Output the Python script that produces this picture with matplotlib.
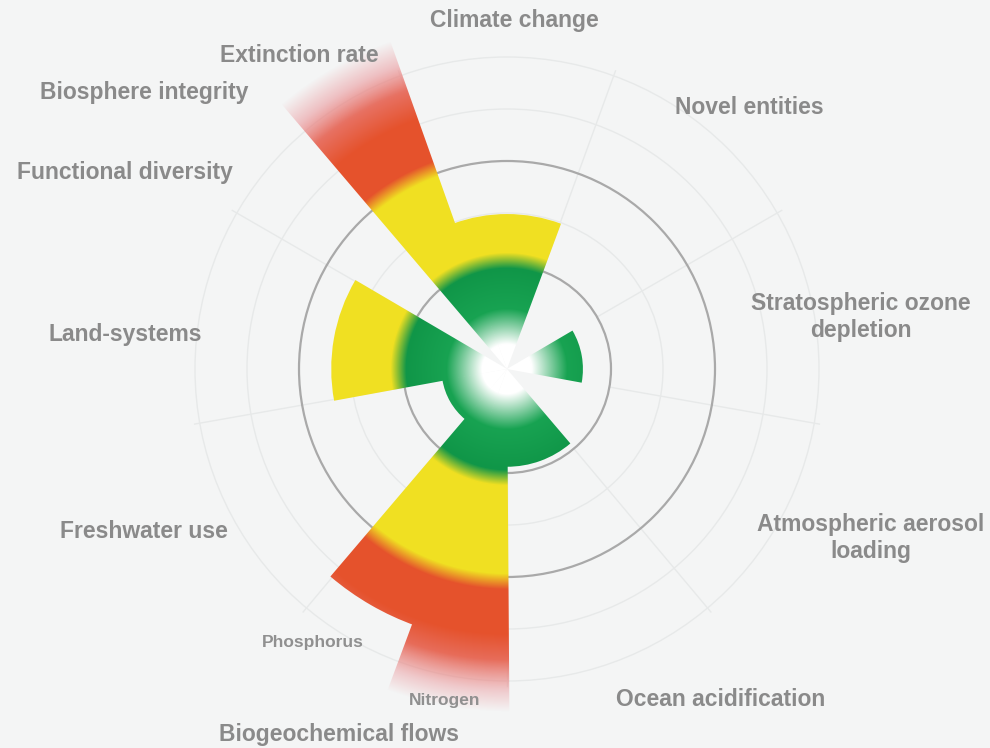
import numpy as np
import matplotlib
matplotlib.use("Agg")
import matplotlib.pyplot as plt
from matplotlib.patches import Wedge, Circle

plt.rcParams['font.family'] = ['Liberation Sans', 'DejaVu Sans']

###############################################################################
#                                  DATA                                       #
###############################################################################

# nine boundaries, clockwise from the top, 40 degrees per sector
sectors = ["Climate change", "Novel entities", "Stratospheric ozone depletion",
           "Atmospheric aerosol loading", "Ocean acidification",
           "Biogeochemical flows", "Freshwater use", "Land-system change",
           "Biosphere integrity"]

# quantified wedges : sector index, which part of the sector, control variable
# (value in units of the safe boundary, 1 = boundary, 2 = zone of high risk)
wedge_names = ["Climate change", "Stratospheric ozone", "Ocean acidification",
               "Nitrogen", "Phosphorus", "Freshwater use", "Land-systems",
               "Extinction rate"]
wedge_sector = [0, 2, 4, 5, 5, 6, 7, 8]
wedge_part = ["full", "full", "full", "first", "second", "full", "full", "second"]
wedge_value = [1.49, 0.73, 0.94, 3.3, 2.62, 0.63, 1.69, 3.35]
wedge_fade = [False, False, False, True, False, False, False, True]

# colour ramp along the radius
ramp_r = [0.0, 0.24, 0.58, 0.97, 1.12, 1.97, 2.12, 2.55, 3.1]
ramp_red = [255, 255, 24, 16, 240, 240, 229, 229, 234]
ramp_green = [255, 255, 163, 150, 224, 224, 82, 82, 140]
ramp_blue = [255, 255, 82, 72, 34, 34, 44, 44, 145]

# grid circles
boundary_circles = [1, 2]
faint_circles = [1.5, 2.5, 3.0]

###############################################################################
#                                  LAYOUT                                     #
###############################################################################

W, H = 990, 748
CX, CY = 507, 369       # centre in pixels
PX = 104                # pixels per boundary unit
BG = "#f4f5f5"
TXT = "#8a8a8a"
GRID = "#e7e9e9"

x0, x1 = -CX / PX, (W - CX) / PX
y0, y1 = -(H - CY) / PX, CY / PX


def px(xp, yp):
    return (xp - CX) / PX, (CY - yp) / PX


fig = plt.figure(figsize=(W / 100, H / 100), dpi=100)
fig.patch.set_facecolor(BG)
ax = fig.add_axes([0, 0, 1, 1])
ax.set_facecolor(BG)

# background grid
for r in faint_circles:
    ax.add_patch(Circle((0, 0), r, fill=False, edgecolor=GRID, lw=1.0, zorder=1))
for r in boundary_circles:
    ax.add_patch(Circle((0, 0), r, fill=False, edgecolor="#a9a9a9", lw=1.6, zorder=2))
for k in range(len(sectors)):
    a = np.deg2rad(90 - (40 * k + 20))
    ax.plot([np.cos(a) * 1.0, np.cos(a) * 3.05], [np.sin(a) * 1.0, np.sin(a) * 3.05],
            color=GRID, lw=1.0, zorder=1)

# radial colour field
xs = np.linspace(x0, x1, W)
ys = np.linspace(y0, y1, H)
X, Y = np.meshgrid(xs, ys)
R = np.hypot(X, Y)
rgb = np.dstack([np.interp(R, ramp_r, c) for c in (ramp_red, ramp_green, ramp_blue)]) / 255.0

for name, s, part, v, fade in zip(wedge_names, wedge_sector, wedge_part, wedge_value, wedge_fade):
    centre = 40 * s
    if part == "full":
        a, b = centre - 20, centre + 20
    elif part == "first":
        a, b = centre - 20, centre
    else:
        a, b = centre, centre + 20
    # small overlap so neighbouring wedges leave no seam
    a, b = a - 0.4, b + 0.4
    alpha = np.ones_like(R)
    if fade:
        alpha = np.clip((v - R) / 0.5, 0, 1)
    img = np.dstack([rgb, alpha])
    w = Wedge((0, 0), v, 90 - b, 90 - a, facecolor="none", edgecolor="none")
    ax.add_patch(w)
    im = ax.imshow(img, extent=(x0, x1, y0, y1), origin="lower",
                   interpolation="bilinear", zorder=3, aspect="auto")
    im.set_clip_path(w)

ax.set_xlim(x0, x1)
ax.set_ylim(y0, y1)
ax.axis("off")

# labels
big = dict(fontsize=16.5, fontweight="bold", color=TXT, ha="center", va="center")
small = dict(fontsize=12.5, fontweight="bold", color="#909090", ha="center", va="center")

ax.text(*px(514, 21), "Climate change", **big)
ax.text(*px(299, 55), "Extinction rate", **big)
ax.text(*px(144, 92), "Biosphere integrity", **big)
ax.text(*px(125, 173), "Functional diversity", **big)
ax.text(*px(749, 107), "Novel entities", **big)
ax.text(*px(861, 317), "Stratospheric ozone\ndepletion", linespacing=1.25, **big)
ax.text(*px(125, 334), "Land-systems", **big)
ax.text(*px(144, 532), "Freshwater use", **big)
ax.text(*px(871, 538), "Atmospheric aerosol\nloading", linespacing=1.25, **big)
ax.text(*px(721, 700), "Ocean acidification", **big)
ax.text(*px(339, 735), "Biogeochemical flows", **big)
ax.text(*px(313, 642), "Phosphorus", **small)
ax.text(*px(445, 701), "Nitrogen", **small)

fig.savefig("out.png", dpi=100, facecolor=BG)
